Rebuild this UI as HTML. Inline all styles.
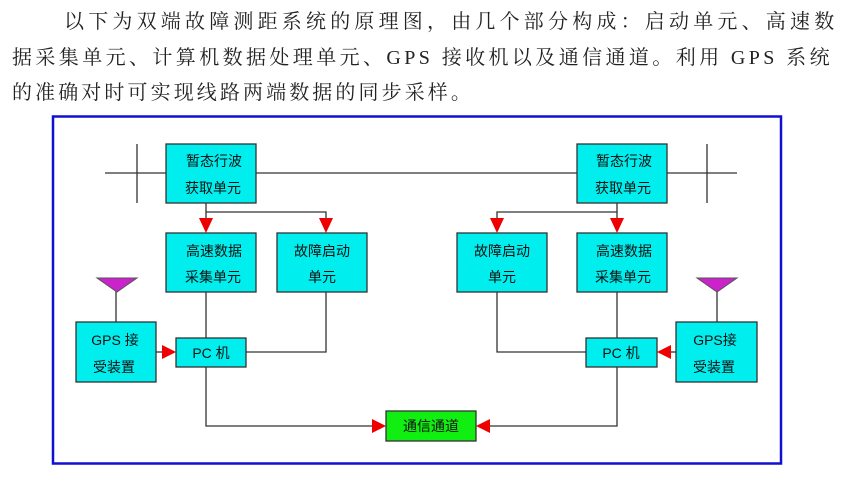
<!DOCTYPE html>
<html><head><meta charset="utf-8"><style>
body{margin:0;width:850px;height:477px;background:#fff;overflow:hidden;position:relative}
.t{position:absolute;left:0;font-family:"Liberation Serif","Noto Serif CJK SC",serif;font-size:20px;color:#222;white-space:nowrap;line-height:20px}
svg{position:absolute;left:0;top:0}
svg text{font-family:"Liberation Sans","Noto Sans CJK SC",sans-serif;font-size:14px;fill:#111;text-anchor:middle}
</style></head><body>
<div class="t" style="top:12px;left:64px;letter-spacing:4.2px">以下为双端故障测距系统的原理图，由几个部分构成：启动单元、高速数</div>
<div class="t" style="top:48px;left:12px;letter-spacing:3.4px">据采集单元、计算机数据处理单元、GPS 接收机以及通信通道。利用 GPS 系统</div>
<div class="t" style="top:83px;left:12px;letter-spacing:3.1px">的准确对时可实现线路两端数据的同步采样。</div>
<svg width="850" height="477">
<rect x="53" y="116.5" width="728" height="347" fill="none" stroke="#1010d0" stroke-width="2.5"/>
<g stroke="#333" stroke-width="1.3" fill="none">
<line x1="105" y1="173" x2="737" y2="173"/>
<line x1="137" y1="144" x2="137" y2="203"/>
<line x1="707" y1="144" x2="707" y2="203"/>
<polyline points="206,203 206,212 326,212 326,222"/>
<line x1="206" y1="212" x2="206" y2="222"/>
<polyline points="617,203 617,212 497,212 497,222"/>
<line x1="617" y1="212" x2="617" y2="222"/>
<line x1="206" y1="292" x2="206" y2="338"/>
<polyline points="326,292 326,352 246,352"/>
<line x1="617" y1="292" x2="617" y2="338"/>
<polyline points="497,292 497,352 586,352"/>
<polyline points="206,367 206,426 372,426"/>
<polyline points="617,367 617,426 490,426"/>
<line x1="116" y1="290" x2="116" y2="322"/>
<line x1="717" y1="290" x2="717" y2="322"/>
<line x1="156" y1="352" x2="162" y2="352"/>
<line x1="676" y1="352" x2="670" y2="352"/>
</g>
<g fill="#ee0000">
<polygon points="199,218 213,218 206,233"/>
<polygon points="319,218 333,218 326,233"/>
<polygon points="490,218 504,218 497,233"/>
<polygon points="610,218 624,218 617,233"/>
<polygon points="162,345 162,359 176,352"/>
<polygon points="671,345 671,359 657,352"/>
<polygon points="372,419 372,433 386,426"/>
<polygon points="490,419 490,433 476,426"/>
</g>
<g fill="#cc22cc" stroke="#555" stroke-width="1">
<polygon points="97,278 137,278 117,292"/>
<polygon points="697,278 737,278 717,292"/>
</g>
<g fill="#00eeee" stroke="#333" stroke-width="1.3">
<rect x="166" y="144" width="90" height="59"/>
<rect x="577" y="144" width="90" height="59"/>
<rect x="166" y="233" width="90" height="59"/>
<rect x="277" y="233" width="90" height="59"/>
<rect x="457" y="233" width="90" height="59"/>
<rect x="577" y="233" width="90" height="59"/>
<rect x="76" y="322" width="80" height="60"/>
<rect x="676" y="322" width="81" height="60"/>
<rect x="176" y="338" width="70" height="29"/>
<rect x="586" y="338" width="71" height="29"/>
</g>
<rect x="386" y="411" width="90" height="30" fill="#11ee11" stroke="#333" stroke-width="1.3"/>
<text x="214" y="166">暂态行波</text><text x="213" y="193">获取单元</text>
<text x="624" y="166">暂态行波</text><text x="623" y="193">获取单元</text>
<text x="214" y="256">高速数据</text><text x="213" y="282">采集单元</text>
<text x="322" y="256">故障启动</text><text x="322" y="282">单元</text>
<text x="502" y="256">故障启动</text><text x="502" y="282">单元</text>
<text x="624" y="256">高速数据</text><text x="623" y="282">采集单元</text>
<text x="115" y="345">GPS 接</text><text x="114" y="372">受装置</text>
<text x="715" y="345">GPS接</text><text x="714" y="372">受装置</text>
<text x="211" y="358">PC 机</text><text x="621" y="358">PC 机</text>
<text x="431" y="431">通信通道</text>
</svg>
</body></html>
